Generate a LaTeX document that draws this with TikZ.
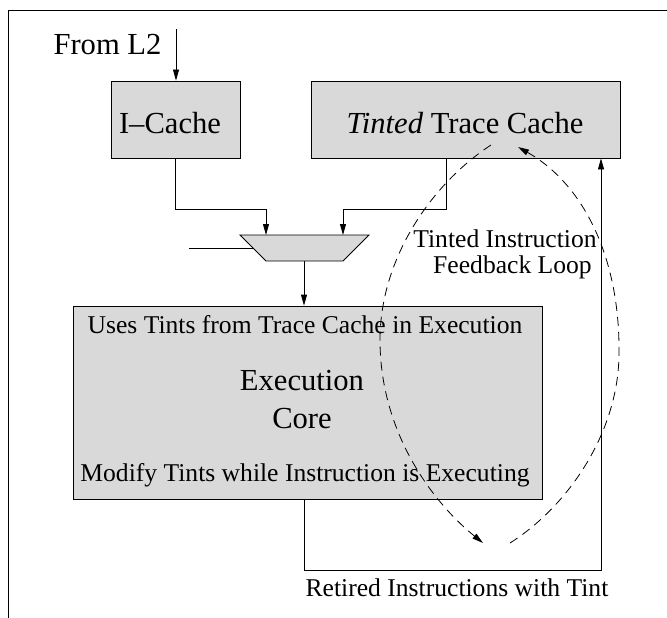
\documentclass[tikz,border=0pt]{standalone}
\usepackage{fontspec}
\setmainfont{Liberation Serif}
\usetikzlibrary{arrows.meta,calc}
\definecolor{boxgray}{RGB}{217,217,217}
\begin{document}
\begin{tikzpicture}[x=1pt,y=-1pt,
  box/.style={draw, fill=boxgray, line width=0.8pt, inner sep=0pt},
  bigtxt/.style={font=\fontsize{25.6}{30}\selectfont, scale=1.195, transform shape, inner sep=0pt, anchor=base},
  smalltxt/.style={font=\fontsize{25.6}{30}\selectfont, inner sep=0pt, anchor=base},
  wire/.style={line width=0.8pt},
  arr/.style={wire, -{Triangle[length=11pt,width=6pt]}},
  fbloop/.style={line width=0.8pt, dash pattern=on 9pt off 6pt, -{Triangle[length=11pt,width=6pt]}}]
\useasboundingbox (0,0) rectangle (667,618);
% frame
\draw[line width=0.8pt] (8,618) -- (8,10) -- (667,10);
% boxes
\node[box, minimum width=129pt, minimum height=77pt] (icache) at (175.5,119.5) {};
\node[box, minimum width=309pt, minimum height=77pt] (tcache) at (465.5,119.5) {};
\node[box, minimum width=469pt, minimum height=193pt] (exec) at (307.5,402.5) {};
% mux
\coordinate (mux) at (304.5,248);
\draw[box] ($(mux)+(-64.5,-13)$) -- ($(mux)+(64.5,-13)$) -- ($(mux)+(38.5,13)$) -- ($(mux)+(-38.5,13)$) -- cycle;
\coordinate (muxinL) at ($(mux)+(-38.5,-13)$);
\coordinate (muxinR) at ($(mux)+(38.5,-13)$);
\coordinate (muxout) at ($(mux)+(-0.5,13)$);
\coordinate (muxside) at ($(mux)+(-51.5,0)$);
\coordinate (muxfeed) at (189,248);
% texts
\node[bigtxt] (froml2) at (107.5,55) {From L2};
\node[bigtxt] (ictxt) at (170,133) {I–Cache};
\node[bigtxt] (tctxt) at (465,133) {\textit{Tinted} Trace Cache};
\node[smalltxt] (uses) at (305,333) {Uses Tints from Trace Cache in Execution};
\node[bigtxt] (exectxt) at (302,390) {Execution};
\node[bigtxt] (coretxt) at (302,428) {Core};
\node[smalltxt] (modify) at (305,481) {Modify Tints while Instruction is Executing};
\node[smalltxt] (retired) at (457,596) {Retired Instructions with Tint};
\node[smalltxt] (fb1) at (505,247.5) {Tinted Instruction};
\node[smalltxt] (fb2) at (512.5,273.5) {Feedback Loop};
% connectors
\coordinate (l2in) at (176,29);
\draw[arr] (l2in) -- (l2in |- icache.north);
\draw[arr] (icache.south) -- ++(0,51) -| (muxinL);
\draw[arr] ($(tcache.south)+(-19.5,0)$) -- ++(0,51) -| (muxinR);
\draw[wire] (muxfeed) -- (muxside);
\draw[arr] (muxout) -- (muxout |- exec.north);
\draw[arr] (muxout |- exec.south) -- ++(0,71) -| ($(tcache.south)+(135.5,0)$);
% feedback loop
\coordinate (loopA) at (491,145);
\coordinate (loopB) at (483,543);
\coordinate (loopC) at (510,543);
\coordinate (loopD) at (518,147);
\draw[fbloop] (loopA) .. controls (430,185) and (380,260) .. (380,340)
  .. controls (380,430) and (430,500) .. (loopB);
\draw[fbloop] (loopC) .. controls (570,505) and (619,430) .. (619,353)
  .. controls (620,260) and (585,185) .. (loopD);
\end{tikzpicture}
\end{document}
